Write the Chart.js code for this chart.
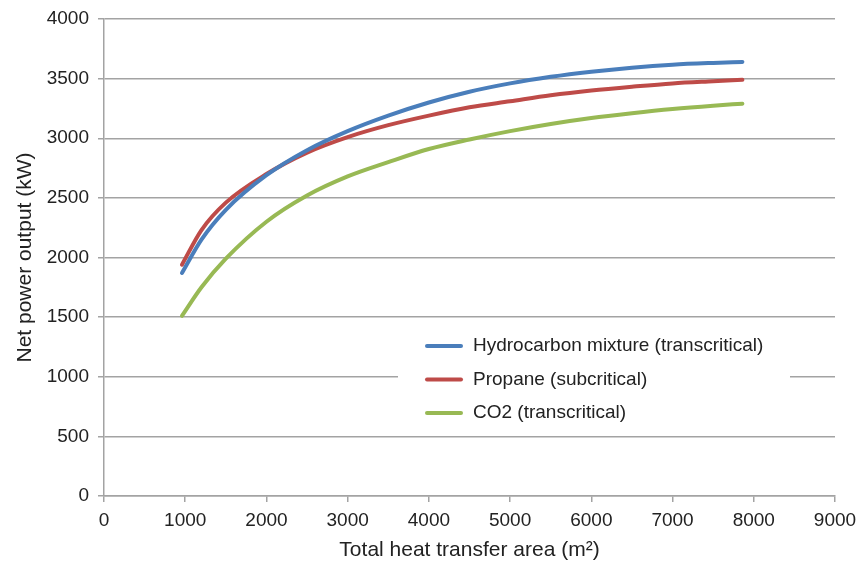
<!DOCTYPE html>
<html lang="en">
<head>
    <meta charset="UTF-8">
    <title>Net power output vs heat transfer area</title>
    <style>
        body {
            margin: 0;
            background: #ffffff;
        }
        #wrap {
            width: 856px;
            height: 563px;
        }
    </style>
</head>
<body>
    <div id="wrap">
        <canvas id="powerChart" width="856" height="563"></canvas>
    </div>

    <script src="https://cdn.jsdelivr.net/npm/chart.js"></script>
    <script>
        // data
        const areas = [960, 1200, 1500, 2000, 2500, 3000, 3500, 4000, 4500, 5000, 5500, 6000, 6500, 7000, 7500, 7860];
        const hydrocarbon = [1870, 2150, 2400, 2690, 2900, 3060, 3190, 3300, 3390, 3460, 3515, 3558, 3592, 3617, 3632, 3640];
        const propane = [1940, 2230, 2460, 2700, 2880, 3010, 3110, 3190, 3260, 3310, 3360, 3400, 3432, 3460, 3478, 3490];
        const co2 = [1510, 1750, 1990, 2300, 2520, 2680, 2800, 2910, 2990, 3060, 3120, 3170, 3210, 3245, 3273, 3290];
        const seriesNames = ['Hydrocarbon mixture (transcritical)', 'Propane (subcritical)', 'CO2 (transcritical)'];
        const xTicks = [0, 1000, 2000, 3000, 4000, 5000, 6000, 7000, 8000, 9000];
        const yTicks = [0, 500, 1000, 1500, 2000, 2500, 3000, 3500, 4000];

        const colors = ['#4a7ebb', '#be4b48', '#98b954'];
        const gridColor = '#a3a3a3';
        const textColor = '#222222';
        const fontName = '"Liberation Sans", Arial, sans-serif';

        function toPoints(ys) {
            return areas.map((x, i) => ({ x: x, y: ys[i] }));
        }

        // legend drawn inside the plot, on a white box that hides the gridline
        const innerLegend = {
            id: 'innerLegend',
            afterDatasetsDraw(chart) {
                const ctx = chart.ctx;
                const x0 = 398, y0 = 328, w = 392, h = 102;
                ctx.save();
                ctx.fillStyle = '#ffffff';
                ctx.fillRect(x0, y0, w, h);
                ctx.font = '19px ' + fontName;
                ctx.textBaseline = 'middle';
                chart.data.datasets.forEach((ds, i) => {
                    const y = 346 + i * 33.5;
                    ctx.strokeStyle = ds.borderColor;
                    ctx.lineWidth = 4;
                    ctx.lineCap = 'round';
                    ctx.beginPath();
                    ctx.moveTo(427, y);
                    ctx.lineTo(461, y);
                    ctx.stroke();
                    ctx.fillStyle = textColor;
                    ctx.fillText(ds.label, 473, y);
                });
                ctx.restore();
            }
        };

        const ctx = document.getElementById('powerChart').getContext('2d');
        const powerChart = new Chart(ctx, {
            type: 'line',
            data: {
                datasets: [hydrocarbon, propane, co2].map((ys, i) => ({
                    label: seriesNames[i],
                    data: toPoints(ys),
                    borderColor: colors[i],
                    backgroundColor: colors[i],
                    borderWidth: 4,
                    pointRadius: 0,
                    cubicInterpolationMode: 'monotone',
                    borderCapStyle: 'round',
                    fill: false
                }))
            },
            options: {
                responsive: false,
                animation: false,
                layout: {
                    padding: { left: 0, right: 21, top: 19, bottom: 0 }
                },
                plugins: {
                    legend: { display: false },
                    tooltip: { enabled: false }
                },
                scales: {
                    x: {
                        type: 'linear',
                        min: 0,
                        max: 9000,
                        afterBuildTicks: (scale) => {
                            scale.ticks = xTicks.map(v => ({ value: v }));
                        },
                        afterFit: (scale) => {
                            scale.height = 67;
                            scale.paddingRight = 0;
                        },
                        grid: {
                            drawOnChartArea: false,
                            drawTicks: true,
                            tickLength: 6,
                            color: gridColor,
                            lineWidth: 1.5
                        },
                        border: { color: gridColor, width: 1.5 },
                        ticks: {
                            color: textColor,
                            font: { size: 19, family: fontName },
                            padding: 7,
                            maxRotation: 0,
                            callback: (v) => String(v)
                        },
                        title: {
                            display: true,
                            text: 'Total heat transfer area (m²)',
                            color: textColor,
                            font: { size: 21, family: fontName },
                            padding: { top: 0, bottom: 0 }
                        }
                    },
                    y: {
                        min: 0,
                        max: 4000,
                        afterBuildTicks: (scale) => {
                            scale.ticks = yTicks.map(v => ({ value: v }));
                        },
                        afterFit: (scale) => {
                            scale.width = 104;
                            scale.paddingTop = 0;
                        },
                        grid: {
                            color: gridColor,
                            lineWidth: 1.5,
                            tickLength: 6
                        },
                        border: { color: gridColor, width: 1.5 },
                        ticks: {
                            color: textColor,
                            font: { size: 19, family: fontName },
                            padding: 9,
                            callback: (v) => String(v)
                        },
                        title: {
                            display: true,
                            text: 'Net power output (kW)',
                            color: textColor,
                            font: { size: 21, family: fontName },
                            padding: { top: 13, bottom: 0 }
                        }
                    }
                }
            },
            plugins: [innerLegend]
        });
    </script>
</body>
</html>
